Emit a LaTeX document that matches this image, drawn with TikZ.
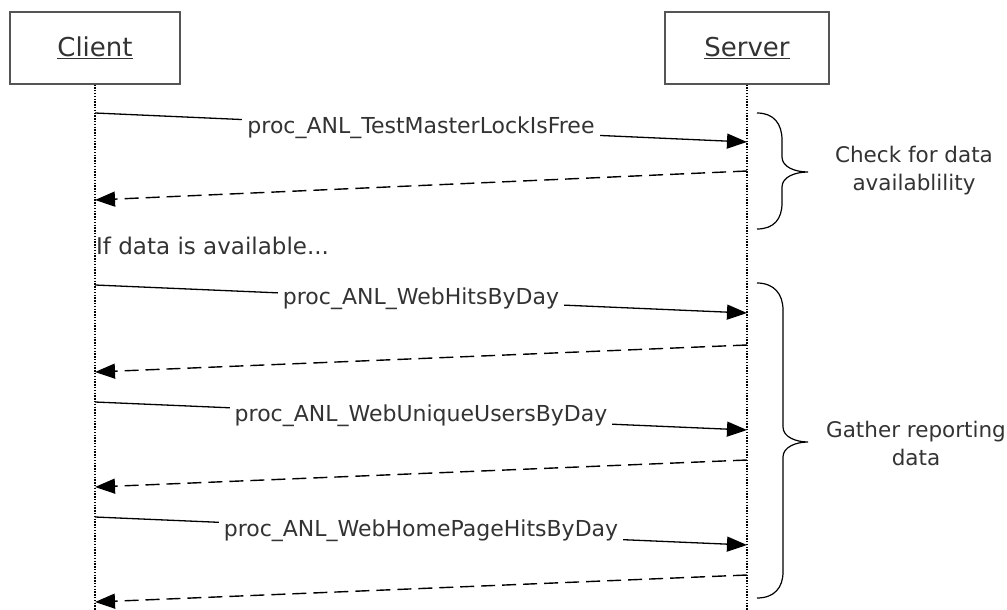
\documentclass[tikz,border=0pt]{standalone}
\usepackage{fontspec}
\setmainfont{DejaVu Sans}
\usetikzlibrary{arrows.meta}
\definecolor{txt}{HTML}{333333}
\definecolor{frame}{HTML}{555555}
\tikzset{
  x=1pt, y=-1pt,
  actor/.style={draw=frame, line width=1.2pt, minimum width=170pt, minimum height=72pt, inner sep=0pt, font=\fontsize{26}{30}\selectfont, text=txt},
  lifeline/.style={line width=1.2pt, dash pattern=on 1.3pt off 1.5pt},
  msg/.style={line width=1.3pt, -{Triangle[length=20pt,width=15pt]}},
  ret/.style={line width=1.4pt, dash pattern=on 14pt off 7pt, -{Triangle[length=20pt,width=15pt]}},
  lbl/.style={fill=white, inner xsep=5pt, inner ysep=2pt, font=\fontsize{22}{26}\selectfont, text=txt},
  note/.style={align=center, font=\fontsize{21.5}{28}\selectfont, text=txt},
  bracepath/.style={line width=1.2pt}
}
\begin{document}
\begin{tikzpicture}
\useasboundingbox (0,0) rectangle (1007,610);
\node[actor] (client) at (95,48) {\underline{Client}};
\node[actor, minimum width=164pt] (server) at (747,48) {\underline{Server}};
\coordinate (cend) at (95,610);
\coordinate (send) at (747,610);
\draw[lifeline] (client.south) -- (cend);
\draw[lifeline] (server.south) -- (send);

% message 1
\coordinate (c1) at (95,113); \coordinate (s1) at (747,142);
\coordinate (s1r) at (747,171); \coordinate (c1r) at (95,200);
\draw[msg] (c1) -- node[lbl, pos=0.5] (m1) {proc\_ANL\_TestMasterLockIsFree} (s1);
\draw[ret] (s1r) -- (c1r);

\node[anchor=west, font=\fontsize{23}{26}\selectfont, text=txt, inner sep=0pt] (cond) at (96,246) {If data is available...};

% message 2
\coordinate (c2) at (95,285); \coordinate (s2) at (747,313);
\coordinate (s2r) at (747,345); \coordinate (c2r) at (95,372);
\draw[msg] (c2) -- node[lbl, pos=0.5] (m2) {proc\_ANL\_WebHitsByDay} (s2);
\draw[ret] (s2r) -- (c2r);

% message 3
\coordinate (c3) at (95,402); \coordinate (s3) at (747,430);
\coordinate (s3r) at (747,460); \coordinate (c3r) at (95,487);
\draw[msg] (c3) -- node[lbl, pos=0.5] (m3) {proc\_ANL\_WebUniqueUsersByDay} (s3);
\draw[ret] (s3r) -- (c3r);

% message 4
\coordinate (c4) at (95,517); \coordinate (s4) at (747,545);
\coordinate (s4r) at (747,575); \coordinate (c4r) at (95,602);
\draw[msg] (c4) -- node[lbl, pos=0.5] (m4) {proc\_ANL\_WebHomePageHitsByDay} (s4);
\draw[ret] (s4r) -- (c4r);

% brace 1
\draw[bracepath] (757,113) .. controls (774,113) and (782,124) .. (782,140)
  -- (782,157) .. controls (782,167) and (795,172) .. (808,172)
  .. controls (795,172) and (782,177) .. (782,187)
  -- (782,203) .. controls (782,219) and (774,229) .. (757,229);
\node[note] (n1) at (914,171) {Check for data\\availablility};

% brace 2
\draw[bracepath] (757,283) .. controls (774,283) and (783,294) .. (783,310)
  -- (783,427) .. controls (783,437) and (796,442) .. (808,442)
  .. controls (796,442) and (783,447) .. (783,457)
  -- (783,572) .. controls (783,588) and (774,598) .. (757,598);
\node[note] (n2) at (916,443) {Gather reporting\\data};
\end{tikzpicture}
\end{document}
